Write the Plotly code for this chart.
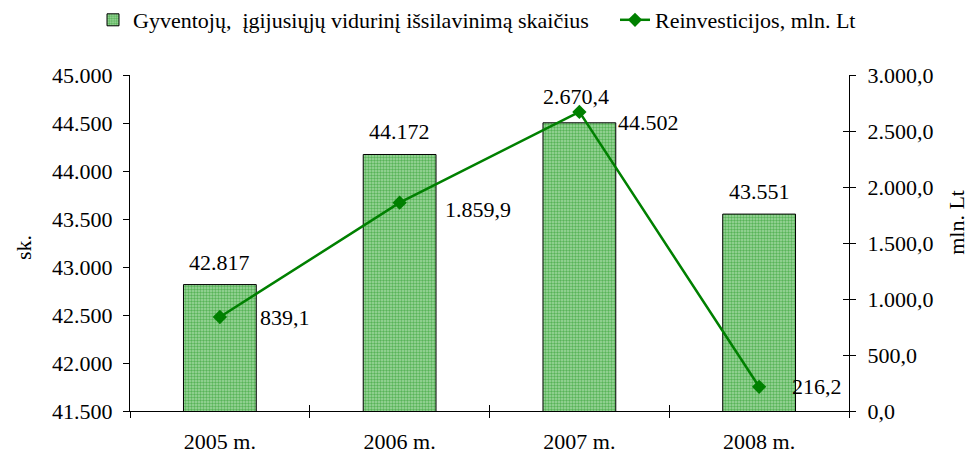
import plotly.graph_objects as go

years = ["2005 m.", "2006 m.", "2007 m.", "2008 m."]
graduates = [42817, 44172, 44502, 43551]
reinvest = [839.1, 1859.9, 2670.4, 216.2]

bar_name = "Gyventojų,\u00a0 įgijusiųjų vidurinį išsilavinimą skaičius"
line_name = "Reinvesticijos, mln. Lt"
left_title = "sk."
right_title = "mln. Lt"


def eu(v, dec):
    s = f"{v:,.{dec}f}"
    return s.replace(",", "X").replace(".", ",").replace("X", ".")


FAM = "Liberation Serif"
font = dict(family=FAM, size=22, color="black")

fig = go.Figure()
fig.add_trace(go.Bar(
    x=years, y=graduates, name=bar_name, legend="legend",
    width=0.405,
    marker=dict(color="#9fd89f", line=dict(color="black", width=1),
                pattern=dict(shape=".", fgcolor="#109010", bgcolor="#a0d8a0",
                             size=3, solidity=0.5)),
))
fig.add_trace(go.Scatter(
    x=years, y=reinvest, name=line_name, yaxis="y2", legend="legend2",
    mode="lines+markers",
    line=dict(color="#008000", width=2.5),
    marker=dict(symbol="diamond", size=11, color="#008000"),
    cliponaxis=False,
))
# empty helper trace so the overlay axes (inner halves of the crossing ticks) are drawn
fig.add_trace(go.Scatter(x=[None], y=[None], xaxis="x2", yaxis="y3",
                         showlegend=False, hoverinfo="skip", mode="markers"))

annotations = []
for i, (yr, v) in enumerate(zip(years, graduates)):
    if i == 2:
        annotations.append(dict(x=yr, y=v, xref="x", yref="y", text=eu(v, 0),
                                showarrow=False, xanchor="left", yanchor="middle",
                                xshift=37, yshift=0, font=font))
    else:
        annotations.append(dict(x=yr, y=v, xref="x", yref="y", text=eu(v, 0),
                                showarrow=False, xanchor="center", yanchor="bottom",
                                yshift=8, font=font))
line_shifts = [(38, 0, "left", "middle"), (43, -7, "left", "middle"),
               (-3, 1, "center", "bottom"), (31, 0, "left", "middle")]
for (yr, v), (xs, ys, xa, ya) in zip(zip(years, reinvest), line_shifts):
    annotations.append(dict(x=yr, y=v, xref="x", yref="y2", text=eu(v, 1),
                            showarrow=False, xanchor=xa, yanchor=ya,
                            xshift=xs, yshift=ys, font=font))
# axis titles
annotations.append(dict(x=0, y=0.485, xref="paper", yref="paper", text=left_title,
                        textangle=-90, showarrow=False, xanchor="center",
                        yanchor="middle", xshift=-107, font=font))
annotations.append(dict(x=1, y=0.56, xref="paper", yref="paper", text=right_title,
                        textangle=-90, showarrow=False, xanchor="center",
                        yanchor="middle", xshift=108, font=font))

ytv = list(range(41500, 45001, 500))
y2tv = list(range(0, 3001, 500))

W, H = 967, 448  # page body has an 8px margin

fig.update_layout(
    width=W, height=H,
    margin=dict(l=122, r=126, t=67, b=45, autoexpand=False),
    paper_bgcolor="white", plot_bgcolor="white",
    font=font,
    showlegend=True,
    legend=dict(orientation="h", xref="container", yref="container",
                x=85 / W, xanchor="left", y=1 - 12 / H, yanchor="middle",
                font=font),
    legend2=dict(orientation="h", xref="container", yref="container",
                 x=607 / W, xanchor="left", y=1 - 12 / H, yanchor="middle",
                 font=font),
    annotations=annotations,
    xaxis=dict(type="category", showline=True, linecolor="black", linewidth=1,
               ticks="outside", tickson="boundaries", ticklen=6, tickcolor="black",
               showgrid=False, tickfont=font, automargin=False, ticklabelstandoff=11),
    xaxis2=dict(overlaying="x", anchor="y", range=[-0.5, 3.5],
                tickvals=[-0.5, 0.5, 1.5, 2.5, 3.5], ticks="inside", ticklen=6,
                tickcolor="black", showticklabels=False, showline=False,
                showgrid=False, zeroline=False, side="bottom", automargin=False),
    yaxis=dict(range=[41500, 45000], tickvals=ytv, ticktext=[eu(v, 0) for v in ytv],
               showline=True, linecolor="black", ticks="outside", ticklen=6,
               tickcolor="black", showgrid=False, zeroline=False,
               tickfont=font, automargin=False, ticklabelstandoff=6),
    yaxis2=dict(range=[0, 3000], overlaying="y", side="right", anchor="x",
                tickvals=y2tv, ticktext=[eu(v, 1) for v in y2tv],
                showline=True, linecolor="black", ticks="outside", ticklen=6,
                tickcolor="black", showgrid=False, zeroline=False,
                tickfont=font, automargin=False, ticklabelstandoff=7),
    yaxis3=dict(range=[0, 3000], overlaying="y", side="right", anchor="x",
                tickvals=y2tv, ticks="inside", ticklen=6, tickcolor="black",
                showticklabels=False, showline=False, showgrid=False,
                zeroline=False, automargin=False),
)

fig.write_html("out.html")
